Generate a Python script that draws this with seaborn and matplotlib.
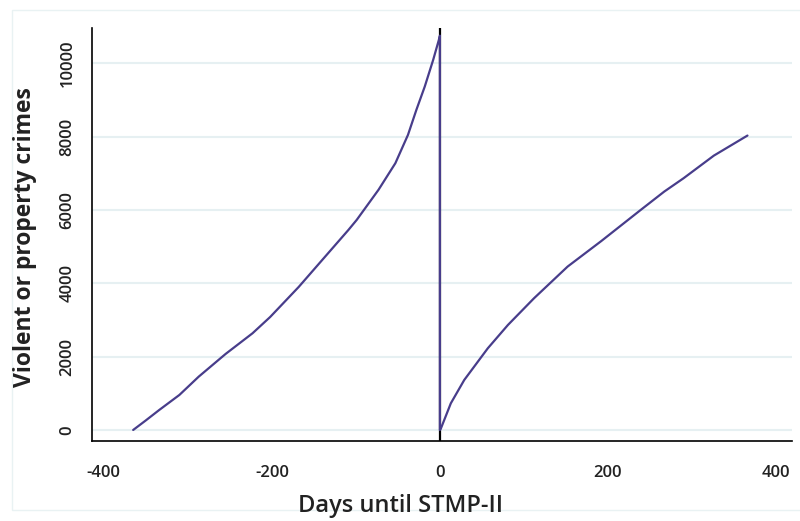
import numpy as np
import pandas as pd
import matplotlib
matplotlib.use("Agg")
import matplotlib.pyplot as plt
import seaborn as sns
from matplotlib.patches import Rectangle

# cumulative crimes
days_before = [-365, -350, -334, -310, -287, -255, -223, -202, -168, -140, -109,
               -99, -73, -53, -38, -28, -18, -8, -1, 0]
crimes_before = [0, 260, 545, 955, 1454, 2073, 2636, 3080, 3900, 4636, 5450,
                 5727, 6550, 7273, 8045, 8727, 9364, 10090, 10655, 10750]
days_after = [0, 1, 13, 29, 57, 81, 112, 152, 192, 239, 267, 290, 326, 366]
crimes_after = [0, 30, 727, 1364, 2227, 2864, 3591, 4455, 5150, 6000, 6500,
                6864, 7480, 8027]

df = pd.DataFrame({
    "days": days_before + days_after,
    "crimes": crimes_before + crimes_after,
})

sns.set_style("white")
plt.rcParams["font.family"] = ["Open Sans", "DejaVu Sans"]
plt.rcParams["axes.unicode_minus"] = False

fig = plt.figure(figsize=(8, 5.21), dpi=100)
ax = fig.add_axes([0.115, 0.1536, 0.875, 0.7927])

# light outer frame
fig.patches.append(Rectangle((11.5 / 800, 11 / 521), 1.0, 500 / 521,
                             transform=fig.transFigure, fill=False,
                             edgecolor="#e9f2f3", lw=1.0, zorder=0))

ax.axvline(0, color="black", lw=1.6, zorder=2)
sns.lineplot(data=df, x="days", y="crimes", sort=False, estimator=None,
             color="#483d8b", lw=1.6, ax=ax, zorder=3)

ax.set_xlim(-414, 419)
ax.set_ylim(-300, 10960)
ax.set_xticks([-400, -200, 0, 200, 400])
ax.set_yticks([0, 2000, 4000, 6000, 8000, 10000])
ax.yaxis.grid(True, color="#e6f0f2", lw=1.5)
ax.xaxis.grid(False)

for s in ["top", "right"]:
    ax.spines[s].set_visible(False)
for s in ["left", "bottom"]:
    ax.spines[s].set_color("black")
    ax.spines[s].set_linewidth(1.2)

ax.tick_params(axis="both", direction="out", width=1.1,
               color="black", labelsize=12, labelcolor="#222222")
ax.tick_params(axis="x", length=4.5, pad=13)
ax.tick_params(axis="y", length=6, pad=6)
for lab in ax.get_yticklabels():
    lab.set_rotation(90)
    lab.set_va("center")
for lab in ax.get_xticklabels() + ax.get_yticklabels():
    lab.set_fontweight("semibold")

ax.set_xlabel("")
ax.set_ylabel("")
fig.text(0.5, 8.5 / 521, "Days until STMP-II", fontsize=17,
         fontweight="semibold", color="#222222", ha="center", va="baseline")
fig.text(25 / 800, (521 - 237) / 521, "Violent or property crimes",
         fontsize=16.5, fontweight="bold", color="#222222", rotation=90,
         ha="center", va="center")

fig.savefig("out.png", dpi=100)
